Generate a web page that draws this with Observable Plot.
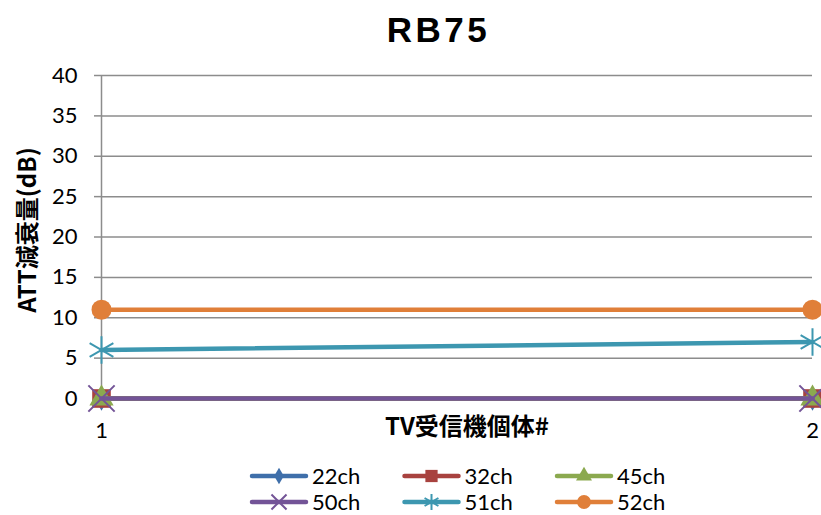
<!DOCTYPE html>
<html>
<head>
<meta charset="utf-8">
<script src="https://cdn.jsdelivr.net/npm/d3@7"></script>
<script src="https://cdn.jsdelivr.net/npm/@observablehq/plot@0.6"></script>
<style>
  body { margin: 0; background: #fff; width: 821px; height: 515px; overflow: hidden; }
  #title { height: 60px; line-height: 60px; text-align: center; padding-left: 56px; box-sizing: border-box;
           font-family: "Liberation Sans", Arial, sans-serif; font-weight: bold; font-size: 35px; letter-spacing: 3.5px; color: #000; }
  #legend { display: block; }
</style>
</head>
<body>
<div id="title">RB75</div>
<div id="chart"></div>
<div id="legendwrap"></div>
<script>
// TV receiver unit numbers along the x axis
const units = [1, 2];
// channel series names
const channels = ["22ch", "32ch", "45ch", "50ch", "51ch", "52ch"];
// ATT attenuation (dB) per channel, one value per unit
const att22 = [0, 0];
const att32 = [0, 0];
const att45 = [0, 0];
const att50 = [0, 0];
const att51 = [6, 7];
const att52 = [11, 11];
// y axis tick values
const yTicks = [0, 5, 10, 15, 20, 25, 30, 35, 40];

const seriesValues = [att22, att32, att45, att50, att51, att52];
const colors = ["#3F6FAA", "#A8423F", "#8BA94F", "#735497", "#3D97B0", "#E07F39"];
const symbols = ["diamond", "square", "triangle", "times", "asterisk", "circle"];
const filled = [true, true, true, false, false, true];
const markerR = [7.5, 10.5, 9, 12, 13, 10];

const rows = channels.flatMap((ch, i) =>
  units.map((u, j) => ({channel: ch, unit: u, value: seriesValues[i][j]})));

const gray = "#8C8C8C";
const seriesMarks = channels.flatMap((ch, i) => {
  const data = rows.filter(d => d.channel === ch);
  const dotOpts = filled[i]
    ? {fill: colors[i], stroke: "none"}
    : {fill: "none", stroke: colors[i], strokeWidth: 2};
  return [
    Plot.line(data, {x: "unit", y: "value", stroke: colors[i], strokeWidth: 4.5, strokeLinecap: "round"}),
    Plot.dot(data, {x: "unit", y: "value", symbol: () => symbols[i], r: markerR[i], ...dotOpts})
  ];
});

const chart = Plot.plot({
  width: 821,
  height: 400,
  marginLeft: 101,
  marginRight: 9,
  marginTop: 15,
  marginBottom: 62,
  style: {fontFamily: "Lato, 'Open Sans', sans-serif", fontSize: "22px", background: "#fff", color: "#000", overflow: "visible"},
  x: {domain: [1, 2]},
  y: {domain: [0, 40]},
  symbol: {type: "identity"},
  marks: [
    Plot.gridY(yTicks, {stroke: gray, strokeOpacity: 1, strokeWidth: 1.5}),
    Plot.axisY({ticks: yTicks, tickSize: 7, tickPadding: 17, stroke: gray, strokeWidth: 1.5, label: null, fontSize: 22}),
    Plot.ruleX([1], {stroke: gray, strokeWidth: 1.5}),
    Plot.axisX({ticks: units, tickSize: 0, tickPadding: 24, tickFormat: d => String(d), label: null, fontSize: 22}),
    Plot.text(["TV受信機個体#"], {frameAnchor: "bottom", dy: 36, dx: 10, text: d => d, textAnchor: "middle",
      fontFamily: "'Noto Sans CJK JP', sans-serif", fontWeight: "bold", fontSize: 24, fill: "#000"}),
    Plot.text(["ATT減衰量(dB)"], {frameAnchor: "left", dx: -73, dy: -7, rotate: -90, text: d => d, textAnchor: "middle",
      fontFamily: "'Noto Sans CJK JP', sans-serif", fontWeight: "bold", fontSize: 24, fill: "#000"}),
    ...seriesMarks
  ]
});
document.getElementById("chart").appendChild(chart);

// Legend: 3 columns x 2 rows, line sample with marker and label
const legendSvg = d3.select("#legendwrap").append("svg")
  .attr("id", "legend").attr("width", 821).attr("height", 55)
  .style("font-family", "Lato, 'Open Sans', sans-serif").style("font-size", "22px");
const symbolTypes = {
  diamond: d3.symbolDiamond, square: d3.symbolSquare, triangle: d3.symbolTriangle,
  times: d3.symbolTimes, asterisk: d3.symbolAsterisk, circle: d3.symbolCircle
};
const legendSize = [80, 150, 110, 150, 180, 150];
channels.forEach((ch, i) => {
  const col = i % 3, row = Math.floor(i / 3);
  const x0 = 252 + col * 152.5, y0 = 16 + row * 26;
  const g = legendSvg.append("g").attr("transform", `translate(${x0},${y0})`);
  g.append("line").attr("x1", 0).attr("x2", 54).attr("y1", 0).attr("y2", 0)
    .attr("stroke", colors[i]).attr("stroke-width", 4.5).attr("stroke-linecap", "round");
  const path = g.append("path").attr("transform", "translate(27,0)")
    .attr("d", d3.symbol(symbolTypes[symbols[i]], legendSize[i])());
  if (filled[i]) path.attr("fill", colors[i]);
  else path.attr("fill", "none").attr("stroke", colors[i]).attr("stroke-width", 2);
  g.append("text").attr("x", 60).attr("y", 0).attr("dy", "0.36em").attr("fill", "#000").text(ch);
});
</script>
</body>
</html>
